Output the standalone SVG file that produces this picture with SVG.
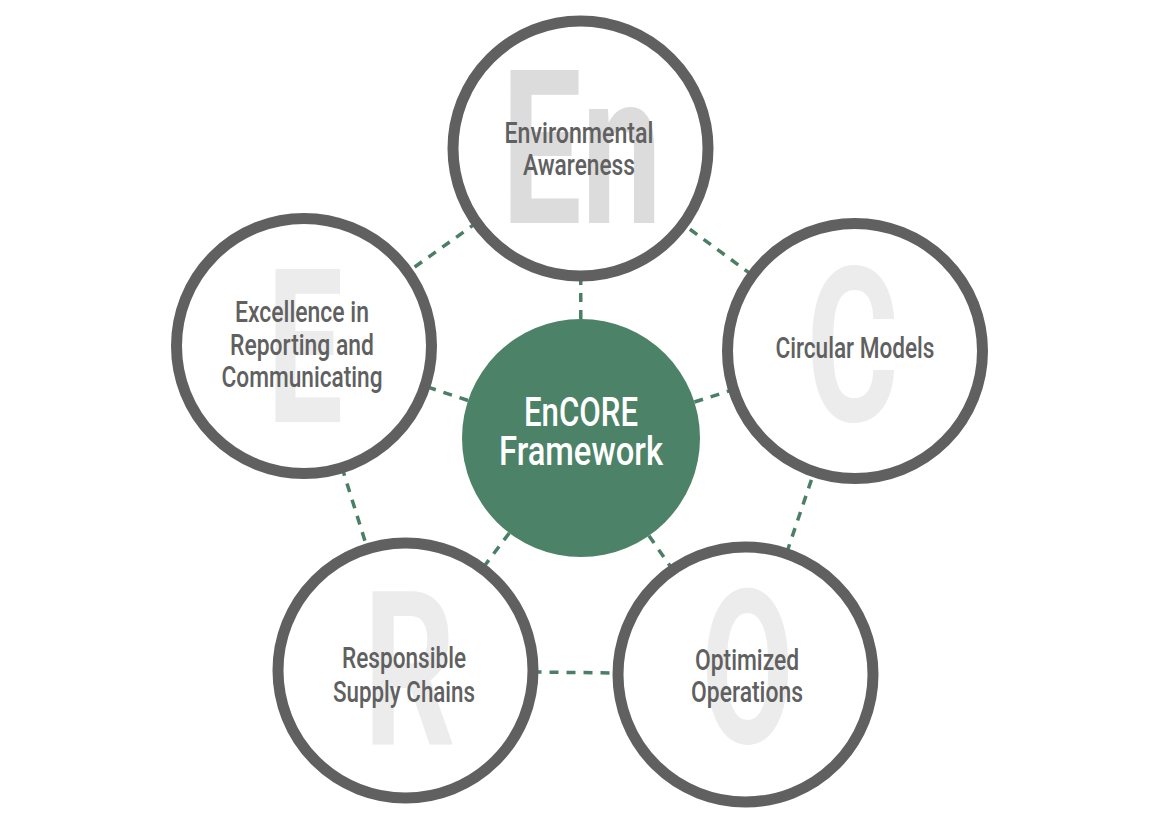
<svg xmlns="http://www.w3.org/2000/svg" width="1170" height="818" viewBox="0 0 1170 818">
<style>
.bg{fill:#ffffff}
.dash{stroke:#4a7f66;stroke-width:3.5;stroke-dasharray:9 8;fill:none}
.ring{fill:#ffffff;stroke:#606060;stroke-width:11}
.big{font-family:Roboto,"Liberation Sans",sans-serif;font-weight:700;font-size:215px;fill:#ececec;text-anchor:middle}
.lbl{font-family:Roboto,"Liberation Sans",sans-serif;font-weight:500;font-size:30px;fill:#606060;text-anchor:middle}
.ctr{font-family:Roboto,"Liberation Sans",sans-serif;font-weight:500;font-size:40px;fill:#ffffff;text-anchor:middle}
</style>
<rect class="bg" x="0" y="0" width="1170" height="818"/>
<g id="connectors">
<line class="dash" x1="580.5" y1="148.5" x2="855" y2="351"/>
<line class="dash" x1="855" y1="351" x2="745.5" y2="674.5"/>
<line class="dash" x1="745.5" y1="674.5" x2="405.5" y2="670.5"/>
<line class="dash" x1="405.5" y1="670.5" x2="304" y2="346"/>
<line class="dash" x1="304" y1="346" x2="580.5" y2="148.5"/>
<line class="dash" x1="581" y1="438" x2="580.5" y2="148.5"/>
<line class="dash" x1="581" y1="438" x2="855" y2="351"/>
<line class="dash" x1="581" y1="438" x2="745.5" y2="674.5"/>
<line class="dash" x1="581" y1="438" x2="405.5" y2="670.5"/>
<line class="dash" x1="581" y1="438" x2="304" y2="346"/>
</g>
<g id="node-center">
<circle cx="581" cy="438" r="119" fill="#4c8267"/>
<text class="ctr" x="581" y="426" textLength="114" lengthAdjust="spacingAndGlyphs">EnCORE</text>
<text class="ctr" x="581" y="465" textLength="164" lengthAdjust="spacingAndGlyphs">Framework</text>
</g>
<g id="node-environmental">
<circle class="ring" cx="580.5" cy="148.5" r="127.5"/>
<text class="big" x="581.5" y="223" textLength="160" lengthAdjust="spacingAndGlyphs" style="fill:#dcdcdc">En</text>
<text class="lbl" x="579" y="143" textLength="149" lengthAdjust="spacingAndGlyphs">Environmental</text>
<text class="lbl" x="579" y="175" textLength="112" lengthAdjust="spacingAndGlyphs">Awareness</text>
</g>
<g id="node-circular">
<circle class="ring" cx="855" cy="351" r="127.5"/>
<text class="big" x="852.5" y="421" textLength="92" lengthAdjust="spacingAndGlyphs">C</text>
<text class="lbl" x="855" y="358" textLength="159" lengthAdjust="spacingAndGlyphs">Circular Models</text>
</g>
<g id="node-optimized">
<circle class="ring" cx="745.5" cy="674.5" r="127.5"/>
<text class="big" x="747.5" y="743" textLength="92" lengthAdjust="spacingAndGlyphs">O</text>
<text class="lbl" x="747" y="670" textLength="104" lengthAdjust="spacingAndGlyphs">Optimized</text>
<text class="lbl" x="747" y="702" textLength="112" lengthAdjust="spacingAndGlyphs">Operations</text>
</g>
<g id="node-responsible">
<circle class="ring" cx="405.5" cy="670.5" r="127.5"/>
<text class="big" x="409.5" y="745" textLength="92" lengthAdjust="spacingAndGlyphs">R</text>
<text class="lbl" x="404" y="668" textLength="124" lengthAdjust="spacingAndGlyphs">Responsible</text>
<text class="lbl" x="404" y="702" textLength="142" lengthAdjust="spacingAndGlyphs">Supply Chains</text>
</g>
<g id="node-excellence">
<circle class="ring" cx="304" cy="346" r="127.5"/>
<text class="big" x="305" y="422" textLength="76" lengthAdjust="spacingAndGlyphs">E</text>
<text class="lbl" x="302" y="322" textLength="134" lengthAdjust="spacingAndGlyphs">Excellence in</text>
<text class="lbl" x="302" y="355" textLength="144" lengthAdjust="spacingAndGlyphs">Reporting and</text>
<text class="lbl" x="302" y="387" textLength="161" lengthAdjust="spacingAndGlyphs">Communicating</text>
</g>
</svg>
